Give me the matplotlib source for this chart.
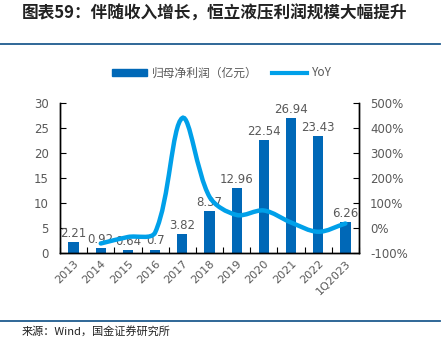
import matplotlib
matplotlib.use("Agg")
import matplotlib.pyplot as plt
from matplotlib.path import Path
from matplotlib.patches import PathPatch
from matplotlib.lines import Line2D
from matplotlib.patches import Patch
import numpy as np

plt.rcParams['font.family'] = ['Noto Sans CJK SC', 'DejaVu Sans']

categories = ['2013', '2014', '2015', '2016', '2017', '2018', '2019', '2020', '2021', '2022', '1Q2023']
profit = [2.21, 0.92, 0.64, 0.70, 3.82, 8.37, 12.96, 22.54, 26.94, 23.43, 6.26]
yoy = [None, -62, -36, -18, 440, 125, 52, 70, 22, -15, 18]

BAR = '#0068B7'
LINE = '#00A0E9'
GRAY = '#595959'

fig = plt.figure(figsize=(4.44, 3.39), dpi=100)
ax = fig.add_axes([60/444, 1-253/339, 299/444, 150/339])
ax2 = ax.twinx()

x = np.arange(len(categories))
ax.bar(x, profit, width=0.38, color=BAR, zorder=2)
for xi, v in zip(x, profit):
    ax.text(xi, v + 0.4, f'{v:g}', ha='center', va='bottom', fontsize=8.5, color=GRAY,
            family='DejaVu Sans')

ax.set_xlim(-0.5, len(categories) - 0.5)
ax.set_ylim(0, 30)
ax.set_yticks(range(0, 31, 5))
ax2.set_ylim(-100, 500)
ax2.set_yticks(range(-100, 501, 100))
ax2.set_yticklabels([f'{t}%' for t in range(-100, 501, 100)])


def smooth_path(xs, ys, sx, sy):
    """Cubic Bezier through the points, handles scaled by adjacent segment lengths."""
    p = np.column_stack([np.asarray(xs, float) * sx, np.asarray(ys, float) * sy])
    n = len(p)
    left = np.zeros_like(p)
    right = np.zeros_like(p)
    for i in range(n):
        a = p[i - 1] if i > 0 else p[i]
        b = p[i + 1] if i < n - 1 else p[i]
        t = b - a
        d1 = np.linalg.norm(p[i] - a)
        d2 = np.linalg.norm(b - p[i])
        tot = d1 + d2 if d1 + d2 > 0 else 1.0
        left[i] = -t * d1 / tot / 3
        right[i] = t * d2 / tot / 3
    verts = [p[0]]
    codes = [Path.MOVETO]
    for i in range(n - 1):
        verts += [p[i] + right[i], p[i + 1] + left[i + 1], p[i + 1]]
        codes += [Path.CURVE4] * 3
    verts = np.array(verts) / np.array([sx, sy])
    return Path(verts, codes)


px = [xi for xi, v in zip(x, yoy) if v is not None]
py = [v for v in yoy if v is not None]
ax2.add_patch(PathPatch(smooth_path(px, py, 299 / 11, 150 / 600), fill=False,
                        edgecolor=LINE, lw=3.2, capstyle='round', zorder=3))

# ticks between categories on x
ax.set_xticks(np.arange(-0.5, len(categories), 1), minor=False)
ax.set_xticklabels([])
ax.set_xticks(x, minor=True)
ax.set_xticklabels(categories, minor=True, rotation=45, ha='right', rotation_mode='anchor',
                   fontsize=8, color=GRAY, family='DejaVu Sans')
ax.tick_params(axis='x', which='major', direction='in', length=4, width=0.8)
ax.tick_params(axis='x', which='minor', length=0, pad=4)
ax.tick_params(axis='y', direction='in', length=4, width=0.8, labelsize=8.5, labelcolor=GRAY, pad=8)
ax2.tick_params(axis='y', direction='in', length=4, width=0.8, labelsize=8.5, labelcolor=GRAY, pad=8)
for t in ax.get_yticklabels() + ax2.get_yticklabels():
    t.set_family('DejaVu Sans')
ax.set_zorder(ax2.get_zorder() - 1)
ax.patch.set_visible(False)
ax2.patch.set_visible(False)
for a in (ax, ax2):
    a.spines['top'].set_visible(False)
    for s in a.spines.values():
        s.set_linewidth(1.0)

handles = [Patch(color=BAR), Line2D([0], [0], color=LINE, lw=3)]
fig.legend(handles, ['归母净利润（亿元）', 'YoY'], loc='center', bbox_to_anchor=(222/444, 1-73/339),
           ncol=2, frameon=False, fontsize=8.5, labelcolor=GRAY, handlelength=3.0,
           handleheight=0.6, columnspacing=1.2, handletextpad=0.4)

fig.text(22/444, 1-14/339, '图表59：伴随收入增长，恒立液压利润规模大幅提升', fontsize=12,
         fontweight='bold', fontstyle='italic', color='#222222', va='center', ha='left')
fig.add_artist(Line2D([0, 440/444], [1-44/339, 1-44/339], color='#1F5C8F', lw=1.3))
fig.add_artist(Line2D([0, 440/444], [1-321/339, 1-321/339], color='#1F5C8F', lw=1.3))
fig.text(22/444, 1-331/339, '来源：Wind，国金证券研究所', fontsize=8, color='#222222',
         va='center', ha='left')

fig.savefig('out.png', dpi=100)
